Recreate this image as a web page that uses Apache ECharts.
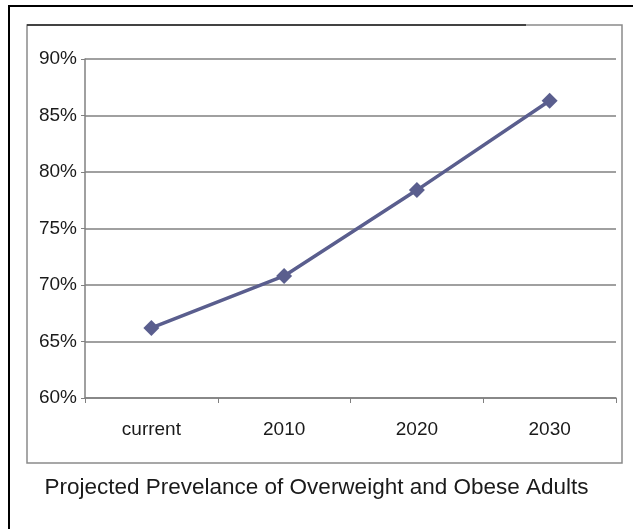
<!DOCTYPE html>
<html>
<head>
<meta charset="utf-8">
<script src="https://cdn.jsdelivr.net/npm/echarts@6/dist/echarts.min.js"></script>
<style>
html,body{margin:0;padding:0;background:#fff;}
#chart{width:633px;height:529px;}
</style>
</head>
<body>
<div id="chart"></div>
<script>
var categories = ['current', '2010', '2020', '2030'];
var prevalence = [66.2, 70.8, 78.4, 86.3];
var yTicks = { min: 60, max: 90, step: 5 };
var titleText = 'Projected Prevelance of Overweight and Obese Adults';

var chart = echarts.init(document.getElementById('chart'));
chart.setOption({
  animation: false,
  backgroundColor: '#ffffff',
  graphic: [
    { type: 'rect', shape: { x: 9, y: 6, width: 700, height: 600 }, style: { fill: 'none', stroke: '#000', lineWidth: 2 }, z: 0 },
    { type: 'rect', shape: { x: 27, y: 25, width: 595, height: 438 }, style: { fill: 'none', stroke: '#8a8a8a', lineWidth: 1.5 }, z: 0 },
    { type: 'line', shape: { x1: 27, y1: 25, x2: 526, y2: 25 }, style: { stroke: '#222', lineWidth: 1.5 }, z: 1 },
    { type: 'text', left: 'center', top: 476, style: { text: titleText, font: '22.5px "Liberation Sans", Arial, sans-serif', fill: '#1a1a1a' } }
  ],
  grid: { left: 85, right: 17, top: 59, bottom: 131, containLabel: false },
  xAxis: {
    type: 'category',
    data: categories,
    boundaryGap: true,
    axisLine: { show: true, lineStyle: { color: '#808080', width: 1.5 } },
    axisTick: { show: true, length: 5, inside: false, lineStyle: { color: '#808080' } },
    axisLabel: { color: '#1a1a1a', fontSize: 19, fontFamily: '"Liberation Sans", Arial, sans-serif', margin: 22 },
    splitLine: { show: false }
  },
  yAxis: {
    type: 'value',
    min: yTicks.min,
    max: yTicks.max,
    interval: yTicks.step,
    axisLine: { show: true, lineStyle: { color: '#808080', width: 1.5 } },
    axisTick: { show: true, length: 4, lineStyle: { color: '#808080' } },
    axisLabel: { formatter: '{value}%', color: '#1a1a1a', fontSize: 19, fontFamily: '"Liberation Sans", Arial, sans-serif', margin: 8, padding: [4, 0, 0, 0] },
    splitLine: { show: true, lineStyle: { color: '#808080', width: 1.5 } }
  },
  series: [{
    type: 'line',
    data: prevalence,
    symbol: 'diamond',
    symbolSize: 16,
    itemStyle: { color: '#5a5e8e' },
    lineStyle: { color: '#5a5e8e', width: 3.5 }
  }]
});
</script>
</body>
</html>
